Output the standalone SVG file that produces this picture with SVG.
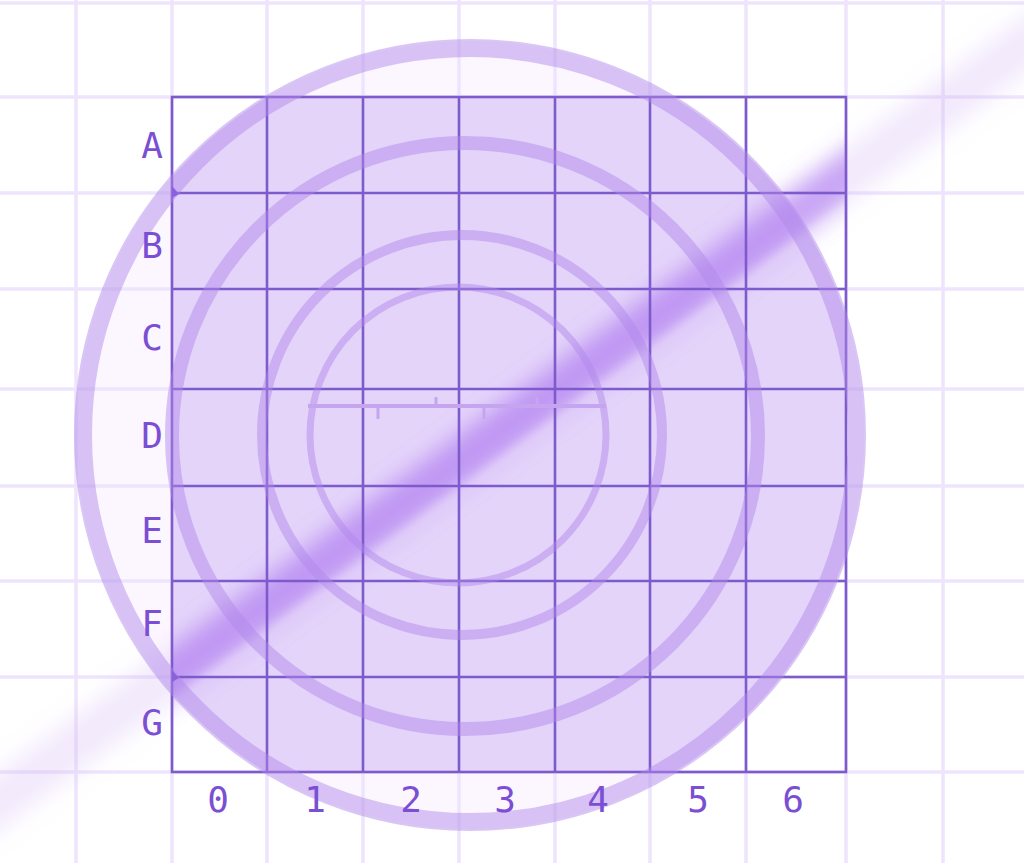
<svg xmlns="http://www.w3.org/2000/svg" width="1024" height="863" viewBox="0 0 1024 863">
<style>
.lg{stroke:#eee5fc;stroke-width:3.5;fill:none}
.dg{stroke:#7e5bcd;stroke-width:2.6;fill:none}
.ring{fill:none;stroke:#b088ea;stroke-opacity:0.48}
.lbl{font-family:"DejaVu Sans Mono","Liberation Mono",monospace;font-size:36px;fill:#7a4fd4;text-anchor:middle}
.rul{stroke:#c5a5f0;fill:none}
</style>
<defs>
<clipPath id="circ"><circle cx="470" cy="435" r="394"/></clipPath>
<clipPath id="gridc"><rect x="172" y="97" width="674" height="675"/></clipPath>
<filter id="blur" x="-20%" y="-20%" width="140%" height="140%"><feGaussianBlur stdDeviation="11"/></filter>
<filter id="blur2" x="-20%" y="-20%" width="140%" height="140%"><feGaussianBlur stdDeviation="5"/></filter>
</defs>
<rect width="1024" height="863" fill="#ffffff"/>
<g id="backdrop">
<circle cx="470" cy="435" r="394" fill="#fcf6ff"/>
<g class="lg">
<line x1="0" y1="3" x2="1024" y2="3"/>
<line x1="0" y1="97" x2="1024" y2="97"/>
<line x1="0" y1="193" x2="1024" y2="193"/>
<line x1="0" y1="289" x2="1024" y2="289"/>
<line x1="0" y1="389" x2="1024" y2="389"/>
<line x1="0" y1="486" x2="1024" y2="486"/>
<line x1="0" y1="581" x2="1024" y2="581"/>
<line x1="0" y1="677" x2="1024" y2="677"/>
<line x1="0" y1="772" x2="1024" y2="772"/>
<line x1="76" y1="0" x2="76" y2="863"/>
<line x1="172" y1="0" x2="172" y2="863"/>
<line x1="267" y1="0" x2="267" y2="863"/>
<line x1="363" y1="0" x2="363" y2="863"/>
<line x1="459" y1="0" x2="459" y2="863"/>
<line x1="555" y1="0" x2="555" y2="863"/>
<line x1="650" y1="0" x2="650" y2="863"/>
<line x1="746" y1="0" x2="746" y2="863"/>
<line x1="846" y1="0" x2="846" y2="863"/>
<line x1="943" y1="0" x2="943" y2="863"/>
</g>
</g>
<g id="grid-fill">
<rect x="172" y="97" width="674" height="675" fill="#e4d4fa" clip-path="url(#circ)"/>
</g>
<g id="stripe">
<line x1="-40" y1="830" x2="1064" y2="16" stroke="#cfb0f5" stroke-width="46" stroke-opacity="0.28" filter="url(#blur)"/>
<g clip-path="url(#gridc)">
<line x1="-40" y1="830" x2="1064" y2="16" stroke="#a56cee" stroke-width="42" stroke-opacity="0.55" filter="url(#blur)"/>
<line x1="-25" y1="850" x2="1079" y2="36" stroke="#ffffff" stroke-width="8" stroke-opacity="0.3" filter="url(#blur2)"/>
</g>
</g>
<g id="grid-lines" class="dg">
<rect x="172" y="97" width="674" height="675"/>
<line x1="172" y1="193" x2="846" y2="193"/>
<line x1="172" y1="289" x2="846" y2="289"/>
<line x1="172" y1="389" x2="846" y2="389"/>
<line x1="172" y1="486" x2="846" y2="486"/>
<line x1="172" y1="581" x2="846" y2="581"/>
<line x1="172" y1="677" x2="846" y2="677"/>
<line x1="267" y1="97" x2="267" y2="772"/>
<line x1="363" y1="97" x2="363" y2="772"/>
<line x1="459" y1="97" x2="459" y2="772"/>
<line x1="555" y1="97" x2="555" y2="772"/>
<line x1="650" y1="97" x2="650" y2="772"/>
<line x1="746" y1="97" x2="746" y2="772"/>
</g>
<g id="corner-marks" fill="#6a3fd0">
<polygon points="172,186 179,194 172,198"/>
<polygon points="172,670 179,678 172,682"/>
</g>
<g id="rings">
<circle class="ring" cx="470" cy="435" r="387" stroke-width="18"/>
<circle class="ring" cx="465" cy="436" r="293" stroke-width="14"/>
<circle class="ring" cx="462" cy="435" r="200" stroke-width="10"/>
<circle class="ring" cx="458" cy="435" r="148" stroke-width="7"/>
</g>
<g id="ruler" class="rul">
<line x1="308" y1="406" x2="606" y2="406" stroke-width="4"/>
<line x1="378" y1="406" x2="378" y2="419" stroke-width="3"/>
<line x1="436" y1="397" x2="436" y2="406" stroke-width="3"/>
<line x1="484" y1="406" x2="484" y2="419" stroke-width="3"/>
<line x1="537" y1="397" x2="537" y2="406" stroke-width="3"/>
</g>
<g id="row-labels" class="lbl">
<text x="152" y="158">A</text>
<text x="152" y="258">B</text>
<text x="152" y="350">C</text>
<text x="152" y="448">D</text>
<text x="152" y="543">E</text>
<text x="152" y="636">F</text>
<text x="152" y="735">G</text>
</g>
<g id="col-labels" class="lbl">
<text x="218" y="812">0</text>
<text x="315" y="812">1</text>
<text x="411" y="812">2</text>
<text x="505" y="812">3</text>
<text x="598" y="812">4</text>
<text x="698" y="812">5</text>
<text x="793" y="812">6</text>
</g>
</svg>
